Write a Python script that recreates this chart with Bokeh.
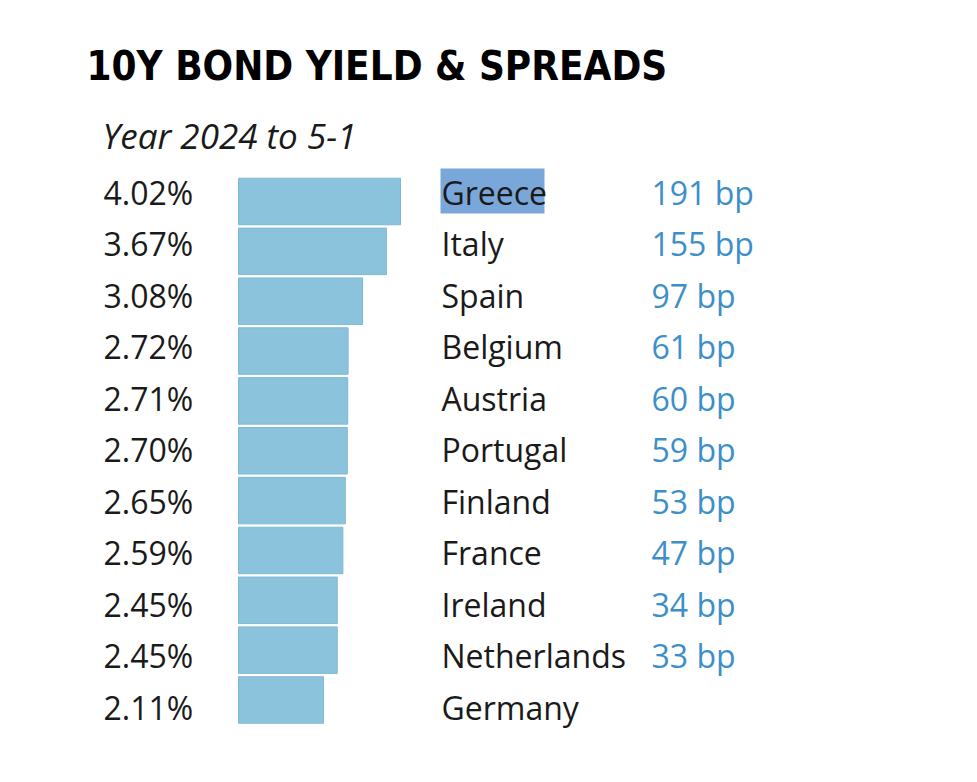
from bokeh.plotting import figure
from bokeh.models import Range1d, ColumnDataSource
from bokeh.core.properties import value
from bokeh.embed import file_html
from bokeh.resources import INLINE

# ---- data ----
countries = ["Greece", "Italy", "Spain", "Belgium", "Austria", "Portugal",
             "Finland", "France", "Ireland", "Netherlands", "Germany"]
yields = [4.02, 3.67, 3.08, 2.72, 2.71, 2.70, 2.65, 2.59, 2.45, 2.45, 2.11]
spreads = [191, 155, 97, 61, 60, 59, 53, 47, 34, 33, None]
title = "10Y BOND YIELD & SPREADS"
subtitle = "Year 2024 to 5-1"

# ---- layout constants ----
W, H = 961, 766
PX_PER_UNIT = 40.3          # pixels per 1% yield
BAR_X0 = 238                # page px where bars start

def xd(page_x):
    return (page_x - BAR_X0) / PX_PER_UNIT

def yd(page_y):
    return page_y

def base(page_y, fs):
    # compensate svg baseline offset
    return page_y - 0.42 * fs

n = len(countries)
idx = list(range(n))
bar_y = [yd(201 + 49.85 * i) for i in idx]
FS = 32
txt_y = [base(205 + 51.5 * i, FS) for i in idx]

p = figure(width=W, height=H, output_backend="svg", toolbar_location=None,
           x_range=Range1d(xd(0), xd(W)), y_range=Range1d(H, 0),
           min_border=0)
p.axis.visible = False
p.grid.visible = False
p.outline_line_color = None
p.background_fill_color = "white"
p.border_fill_color = "white"

FONT = value("Open Sans")

# bars
bars = ColumnDataSource(dict(y=bar_y, right=yields))
p.hbar(y="y", left=0, right="right", height=46.5, source=bars,
       fill_color="#8bc3dd", line_color="#7db9d6", line_width=1)

# percentage labels
pct = ColumnDataSource(dict(x=[xd(103)] * n, y=txt_y,
                            t=[f"{v:.2f}%" for v in yields]))
p.text(x="x", y="y", text="t", source=pct, text_font=FONT,
       text_font_size=f"{FS}px", text_color="#1a1a1a",
       text_align="left", text_baseline="alphabetic")

# Greece highlight
p.quad(left=xd(440), right=xd(544), top=yd(168), bottom=yd(213),
       fill_color="#7aa7d9", line_color=None)

# country names
cn = ColumnDataSource(dict(x=[xd(441)] * n, y=txt_y, t=countries))
p.text(x="x", y="y", text="t", source=cn, text_font=FONT,
       text_font_size=f"{FS}px", text_color="#1a1a1a",
       text_align="left", text_baseline="alphabetic")

# spreads
sy = [y for y, s in zip(txt_y, spreads) if s is not None]
st = [f"{s} bp" for s in spreads if s is not None]
sp = ColumnDataSource(dict(x=[xd(651)] * len(st), y=sy, t=st))
p.text(x="x", y="y", text="t", source=sp, text_font=FONT,
       text_font_size=f"{FS}px", text_color="#3c8fc9",
       text_align="left", text_baseline="alphabetic")

# title & subtitle
p.text(x=[xd(86)], y=[yd(80) - 0.36 * 40], text=[title],
       text_font=value("DejaVu Sans Condensed, DejaVu Sans, sans-serif"),
       text_font_size="40px", text_font_style="bold", text_color="#000000",
       text_align="left", text_baseline="alphabetic")
p.text(x=[xd(102)], y=[base(150, 35)], text=[subtitle], text_font=FONT,
       text_font_size="35px", text_font_style="italic", text_color="#1a1a1a",
       text_align="left", text_baseline="alphabetic")

open("out.html", "w").write(file_html(p, INLINE))
